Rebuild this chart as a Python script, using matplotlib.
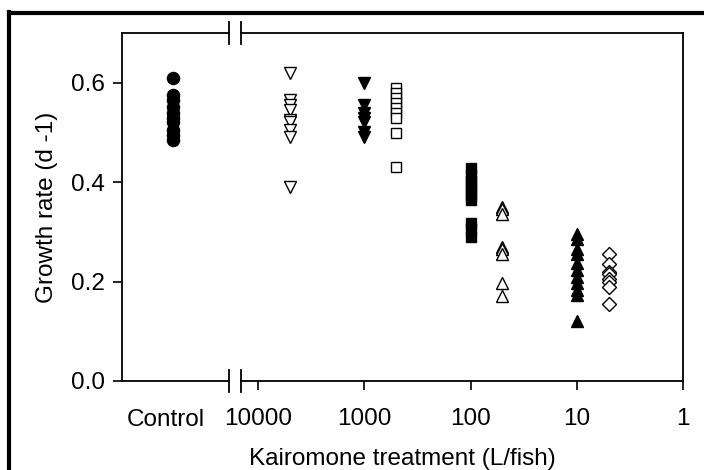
import matplotlib
matplotlib.use("Agg")
import matplotlib.pyplot as plt
from matplotlib.lines import Line2D

plt.rcParams["font.family"] = ["Liberation Sans", "DejaVu Sans"]

# kairomone dose (L/fish) for each treatment group
control_growth = [0.61, 0.575, 0.565, 0.552, 0.54, 0.53, 0.52, 0.505, 0.495, 0.485]
dose_5000 = [0.62, 0.565, 0.555, 0.545, 0.525, 0.52, 0.505, 0.49, 0.39]
dose_1000 = [0.60, 0.555, 0.54, 0.53, 0.52, 0.50, 0.49]
dose_500 = [0.589, 0.579, 0.569, 0.559, 0.549, 0.539, 0.529, 0.499, 0.431]
dose_100 = [0.428, 0.415, 0.405, 0.395, 0.385, 0.375, 0.365, 0.318, 0.305, 0.29]
dose_50 = [0.35, 0.345, 0.335, 0.27, 0.265, 0.255, 0.197, 0.17]
dose_10 = [0.295, 0.285, 0.265, 0.255, 0.237, 0.223, 0.21, 0.197, 0.183, 0.173, 0.12]
dose_5 = [0.255, 0.235, 0.22, 0.215, 0.205, 0.20, 0.19, 0.155]

doses = [5000, 1000, 500, 100, 50, 10, 5]
groups = [dose_5000, dose_1000, dose_500, dose_100, dose_50, dose_10, dose_5]
markers = ["v", "v", "s", "s", "^", "^", "D"]
filled = [False, True, False, True, False, True, False]

xticks = [10000, 1000, 100, 10, 1]
xtick_labels = ["10000", "1000", "100", "10", "1"]
yticks = [0.0, 0.2, 0.4, 0.6]

CONTROL_X = 10 ** 4.8   # where the control column sits on the axis
X_LEFT = 10 ** 5.28
FS = 17.5

fig = plt.figure(figsize=(7.04, 4.70), dpi=100)
ax = fig.add_axes([0.1733, 0.1894, 0.7969, 0.7404])

ax.plot([CONTROL_X] * len(control_growth), control_growth, "o", color="k",
        markersize=8.7, linestyle="none")
for dose, vals, m, f in zip(doses, groups, markers, filled):
    size = {"v": 8.7, "s": 7, "^": 8.7, "D": 7.5}[m]
    ax.plot([dose] * len(vals), vals, m, linestyle="none", markersize=size,
            markerfacecolor="k" if f else "white", markeredgecolor="k",
            markeredgewidth=1.0)

ax.set_xscale("log")
ax.set_xlim(X_LEFT, 1)
ax.set_ylim(0, 0.7)
ax.set_xticks(xticks)
ax.set_xticklabels(xtick_labels)
ax.minorticks_off()
ax.set_yticks(yticks)
ax.set_yticklabels([f"{v:.1f}" for v in yticks])
ax.tick_params(axis="both", direction="out", length=6.5, width=1.2,
               labelsize=FS, color="k")
ax.tick_params(axis="x", pad=13)
ax.tick_params(axis="y", pad=6)

# axis break on top and bottom
for side in ("top", "bottom"):
    ax.spines[side].set_visible(False)
for side in ("left", "right"):
    ax.spines[side].set_linewidth(1.3)
b0, b1 = 0.191, 0.212
for y in (0, 1):
    ax.plot([0, b0], [y, y], transform=ax.transAxes, clip_on=False, color="k", lw=1.3)
    ax.plot([b1, 1], [y, y], transform=ax.transAxes, clip_on=False, color="k", lw=1.3)
    for bx in (b0, b1):
        ax.plot([bx, bx], [y - 0.032, y + 0.032], transform=ax.transAxes,
                clip_on=False, color="k", lw=1.3)

ax.text(10 ** 4.87, -0.113, "Control", transform=ax.get_xaxis_transform(),
        ha="center", va="center", fontsize=FS)

ax.set_xlabel("Kairomone treatment (L/fish)", fontsize=FS, labelpad=13)
ax.set_ylabel("Growth rate (d -1)", fontsize=FS, labelpad=9)

# thick frame at top and left of the scanned figure
fig.add_artist(Line2D([0.0128, 1], [0.9723, 0.9723], color="k", lw=3, transform=fig.transFigure))
fig.add_artist(Line2D([0.0128, 0.0128], [0, 0.9745], color="k", lw=3, transform=fig.transFigure))

fig.savefig("out.png", dpi=100)
